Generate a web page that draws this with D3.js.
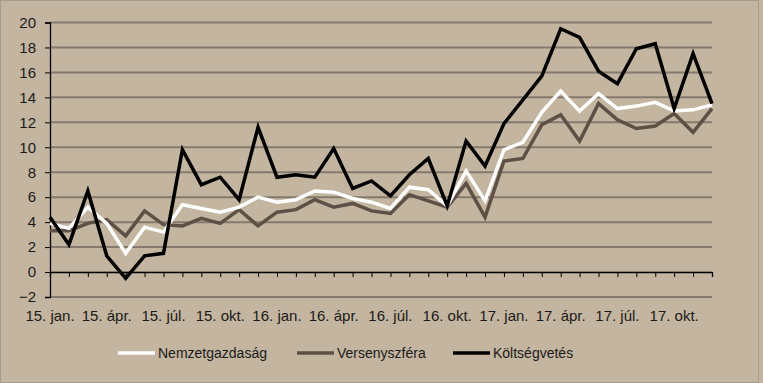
<!DOCTYPE html>
<html><head><meta charset="utf-8">
<script src="https://cdn.jsdelivr.net/npm/d3@7"></script>
<style>body{margin:0;background:#C3B59F;} svg{display:block;}</style>
</head><body>
<script>
const months = ["jan.","febr.","márc.","ápr.","máj.","jún.","júl.","aug.","szept.","okt.","nov.","dec."];
const categories = [];
["15","16","17"].forEach(y => months.forEach(m => categories.push(y + ". " + m)));
const nemzetgazdasag = [3.9,3.5,5.2,3.9,1.5,3.6,3.2,5.4,5.1,4.8,5.2,6.0,5.6,5.8,6.5,6.4,5.9,5.6,5.1,6.8,6.6,5.3,8.1,5.7,9.8,10.4,12.8,14.5,12.9,14.3,13.1,13.3,13.6,12.9,13.0,13.4];
const versenyszfera = [3.3,3.3,3.9,4.2,2.9,4.9,3.8,3.7,4.3,3.9,5.0,3.7,4.8,5.0,5.8,5.2,5.5,4.9,4.7,6.2,5.7,5.2,7.1,4.4,8.9,9.1,11.8,12.6,10.5,13.5,12.2,11.5,11.7,12.7,11.2,13.1];
const koltsegvetes = [4.4,2.2,6.5,1.3,-0.5,1.3,1.5,9.8,7.0,7.6,5.8,11.6,7.6,7.8,7.6,9.9,6.7,7.3,6.1,7.8,9.1,5.3,10.5,8.5,11.9,13.8,15.7,19.5,18.8,16.1,15.1,17.9,18.3,13.1,17.5,13.5];
const yTicks = [-2,0,2,4,6,8,10,12,14,16,18,20];
const seriesNames = ["Nemzetgazdaság","Versenyszféra","Költségvetés"];

const W = 763, H = 383;
const svg = d3.select("body").append("svg").attr("width", W).attr("height", H);
svg.append("rect").attr("x",0.5).attr("y",0.5).attr("width",W-5).attr("height",H-1)
  .attr("fill","#C3B59F").attr("stroke","#A89C88").attr("stroke-width",1);

const x = d3.scalePoint().domain(categories).range([50, 712]);
const y = d3.scaleLinear().domain([-2, 20]).range([297, 22.5]);
const font = "Liberation Sans, Arial, sans-serif";

// gridlines
svg.append("g").selectAll("line").data(yTicks).join("line")
  .attr("x1", 50).attr("x2", 712)
  .attr("y1", d => y(d)).attr("y2", d => y(d))
  .attr("stroke", "#857A6E").attr("stroke-width", 2);

// y axis
const yAxis = svg.append("g").attr("transform", "translate(50,0)")
  .call(d3.axisLeft(y).tickValues(yTicks).tickSize(5).tickPadding(9));
yAxis.select(".domain").attr("stroke", "#000").attr("stroke-width", 1.3);
yAxis.selectAll(".tick line").attr("stroke", "#000");
yAxis.selectAll("text").attr("font-family", font).attr("font-size", 15).attr("fill", "#1a1a1a");

// x axis at zero
const xAxis = svg.append("g").attr("transform", `translate(0,${y(0)})`)
  .call(d3.axisBottom(x).tickSize(5).tickFormat(""));
xAxis.select(".domain").attr("stroke", "#000").attr("stroke-width", 1.3);
xAxis.selectAll(".tick line").attr("stroke", "#000");

// x labels at bottom
svg.append("g").selectAll("text")
  .data(categories.filter((d, i) => i % 3 === 0))
  .join("text")
  .attr("x", d => x(d)).attr("y", 321)
  .attr("text-anchor", "middle")
  .attr("font-family", font).attr("font-size", 15).attr("fill", "#1a1a1a")
  .text(d => d);

const series = [
  {name: seriesNames[0], values: nemzetgazdasag, color: "#FFFFFF"},
  {name: seriesNames[1], values: versenyszfera, color: "#5E5044"},
  {name: seriesNames[2], values: koltsegvetes, color: "#000000"}
];
const line = d3.line().x((d, i) => x(categories[i])).y(d => y(d));
[series[1], series[0], series[2]].forEach(s => {
  svg.append("path").datum(s.values)
    .attr("d", line).attr("fill", "none")
    .attr("stroke", s.color).attr("stroke-width", 3.5)
    .attr("stroke-linejoin", "miter").attr("stroke-miterlimit", 4);
});

// legend
const legendX = [118, 297, 453];
const lg = svg.append("g").selectAll("g").data(series).join("g")
  .attr("transform", (d, i) => `translate(${legendX[i]},353)`);
lg.append("line").attr("x1", 0).attr("x2", 37).attr("y1", 0).attr("y2", 0)
  .attr("stroke", d => d.color).attr("stroke-width", 3.5);
lg.append("text").attr("x", 40).attr("y", 5)
  .attr("font-family", font).attr("font-size", 14).attr("fill", "#1a1a1a")
  .text(d => d.name);
</script>
</body></html>
